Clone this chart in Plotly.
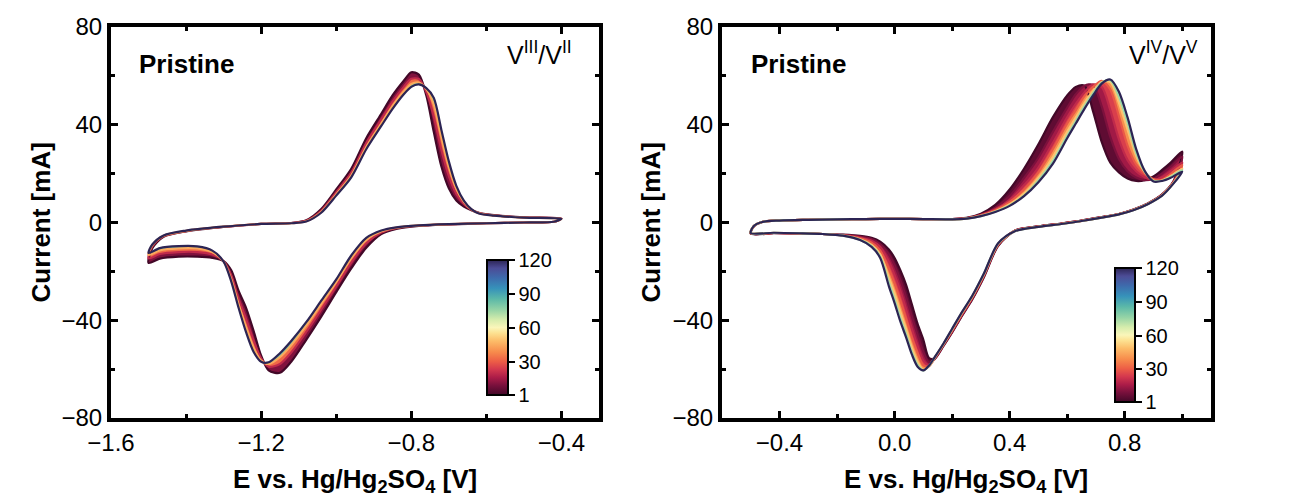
import plotly.graph_objects as go
from plotly.colors import sample_colorscale

FONT = "Liberation Sans, Arial, sans-serif"

# ---------------- LEFT PANEL (V3+/V2+) ----------------
L_CYCLES = [1, 20, 45, 120]
# forward (anodic) sweep potentials [V]
LF_E = [-1.50, -1.49, -1.46, -1.40, -1.30, -1.20, -1.12, -1.08, -1.04, -1.00, -0.96, -0.92, -0.88, -0.85,
        -0.82, -0.80, -0.78, -0.76, -0.74, -0.72, -0.70, -0.68, -0.66, -0.64, -0.62, -0.58, -0.50, -0.40]
L_FWD_C1 = [-16.5, -10.5, -5.8, -3.6, -1.8, -0.6, -0.2, 0.9, 5.5, 13.5, 22.0, 34.5, 44.5, 52.0,
            58.0, 61.5, 60.5, 52.0, 37.0, 23.0, 14.0, 9.0, 6.5, 5.0, 4.0, 3.0, 2.1, 1.6]
L_FWD_C20 = [-14.7, -9.8, -5.6, -3.5, -1.8, -0.6, -0.2, 0.7, 4.8, 12.4, 20.4, 32.5, 42.2, 49.5,
             55.5, 58.8, 58.7, 53.4, 43.3, 29.8, 19.0, 11.7, 7.6, 5.2, 3.9, 2.9, 2.1, 1.6]
L_FWD_C45 = [-13.3, -9.3, -5.4, -3.4, -1.7, -0.6, -0.3, 0.5, 4.3, 11.5, 19.2, 30.9, 40.5, 47.6,
             53.6, 56.7, 57.3, 54.6, 48.2, 35.0, 22.8, 13.8, 8.5, 5.4, 3.8, 2.8, 2.0, 1.5]
L_FWD_C120 = [-12.5, -9.0, -5.3, -3.3, -1.7, -0.6, -0.3, 0.4, 4.0, 11.0, 18.5, 30.0, 39.5, 46.5,
              52.5, 55.5, 56.5, 55.0, 51.0, 38.0, 25.0, 15.0, 9.0, 5.5, 3.7, 2.8, 2.0, 1.5]
# reverse (cathodic) sweep potentials [V]
LR_E = [-0.40, -0.42, -0.50, -0.60, -0.70, -0.78, -0.84, -0.88, -0.92, -0.96, -1.00, -1.04, -1.08, -1.12,
        -1.15, -1.18, -1.20, -1.22, -1.24, -1.26, -1.28, -1.30, -1.33, -1.37, -1.42, -1.47, -1.50]
L_REV_C1 = [1.6, 0.3, 0.0, -0.3, -0.8, -1.4, -2.6, -4.7, -10.3, -18.8, -28.5, -38.5, -48.0, -57.0,
            -61.5, -60.5, -54.5, -44.4, -35.0, -28.0, -19.5, -15.8, -14.5, -14.0, -14.0, -14.8, -16.5]
L_REV_C20 = [1.6, 0.3, 0.0, -0.3, -0.75, -1.3, -2.3, -4.1, -8.5, -16.4, -26.2, -35.6, -44.8, -53.2,
             -57.9, -59.0, -55.6, -48.3, -39.5, -31.2, -21.5, -15.9, -13.1, -12.1, -12.1, -12.9, -14.7]
L_REV_C45 = [1.5, 0.3, 0.0, -0.3, -0.7, -1.2, -2.1, -3.6, -7.1, -14.6, -24.3, -33.3, -42.2, -50.2,
             -55.1, -57.9, -56.5, -51.3, -43.0, -33.6, -23.1, -16.0, -12.1, -10.6, -10.6, -11.4, -13.3]
L_REV_C120 = [1.5, 0.3, 0.0, -0.3, -0.7, -1.2, -2.0, -3.3, -6.3, -13.5, -23.3, -32.0, -40.8, -48.5,
              -53.5, -57.2, -57.0, -53.0, -45.0, -35.0, -24.0, -16.0, -11.5, -9.8, -9.7, -10.5, -12.5]

# ---------------- RIGHT PANEL (V4+/V5+) ----------------
R_CYCLES = [1, 10, 20, 30, 50, 75, 120]
RF_E = [-0.50, -0.49, -0.46, -0.40, -0.30, -0.20, -0.10, 0.00, 0.10, 0.20, 0.25, 0.30, 0.35, 0.40, 0.45,
        0.50, 0.55, 0.60, 0.63, 0.66, 0.69, 0.72, 0.75, 0.78, 0.81, 0.84, 0.87, 0.90, 0.93, 0.96, 1.00]
R_FWD_C1 = [-4.6, -1.6, 0.2, 0.8, 1.1, 1.3, 1.4, 1.5, 1.4, 1.4, 1.9, 3.6, 7.2, 13.5, 22.0,
            32.0, 43.0, 52.0, 55.5, 56.0, 45.5, 33.0, 24.5, 20.5, 18.0, 17.0, 17.3, 18.8, 21.5, 24.5, 29.0]
R_FWD_C10 = [-4.5, -1.6, 0.2, 0.8, 1.1, 1.3, 1.4, 1.5, 1.4, 1.4, 1.8, 3.2, 6.0, 10.8, 18.2,
             26.5, 37.0, 47.0, 52.5, 56.0, 56.3, 47.5, 35.0, 26.0, 21.0, 18.4, 17.3, 17.9, 20.0, 22.8, 27.0]
R_FWD_C20 = [-4.5, -1.6, 0.2, 0.8, 1.1, 1.3, 1.4, 1.5, 1.4, 1.4, 1.7, 3.0, 5.4, 9.2, 15.2,
             22.5, 32.5, 43.0, 48.5, 53.2, 56.5, 55.5, 46.0, 34.0, 25.5, 21.0, 18.5, 17.3, 18.5, 21.0, 24.5]
R_FWD_C30 = [-4.4, -1.5, 0.2, 0.8, 1.1, 1.3, 1.4, 1.5, 1.4, 1.4, 1.7, 2.9, 5.0, 8.4, 13.5,
             20.5, 30.0, 40.5, 46.0, 51.7, 55.5, 58.0, 54.5, 43.5, 31.5, 23.8, 20.0, 17.8, 17.5, 19.8, 23.5]
R_FWD_C50 = [-4.3, -1.5, 0.2, 0.8, 1.1, 1.3, 1.4, 1.5, 1.4, 1.3, 1.6, 2.7, 4.6, 7.5, 11.8,
             18.3, 26.8, 37.2, 43.0, 49.0, 53.8, 57.5, 57.5, 49.0, 38.0, 27.2, 20.6, 17.2, 17.2, 19.0, 22.0]
R_FWD_C75 = [-4.3, -1.5, 0.2, 0.8, 1.1, 1.3, 1.4, 1.5, 1.4, 1.3, 1.6, 2.6, 4.4, 7.0, 11.0,
             17.2, 25.0, 35.5, 41.5, 47.5, 52.8, 57.2, 58.2, 51.5, 40.8, 28.5, 20.8, 17.0, 17.1, 18.6, 21.4]
R_FWD_C120 = [-4.3, -1.5, 0.2, 0.8, 1.1, 1.3, 1.4, 1.5, 1.4, 1.3, 1.6, 2.6, 4.3, 6.8, 10.8,
              16.5, 24.0, 34.5, 40.5, 46.5, 52.0, 56.8, 58.5, 53.5, 43.0, 30.0, 21.0, 16.8, 17.0, 18.3, 20.8]
RR_E = [1.00, 0.97, 0.93, 0.88, 0.83, 0.78, 0.72, 0.65, 0.58, 0.50, 0.42, 0.36, 0.31, 0.27, 0.23, 0.20, 0.17,
        0.14, 0.12, 0.10, 0.08, 0.06, 0.04, 0.02, 0.00, -0.02, -0.05, -0.08, -0.12, -0.18, -0.25, -0.33, -0.42, -0.50]
R_REV_C1 = [29.0, 17.0, 11.5, 7.8, 5.3, 3.5, 2.2, 0.8, -0.4, -1.6, -3.3, -9.5, -22.5, -31.5, -39.0, -45.0, -50.5,
            -55.5, -55.5, -48.0, -41.5, -33.5, -25.5, -19.5, -14.5, -11.0, -7.8, -6.3, -5.5, -5.0, -4.7, -4.5, -4.4, -4.6]
R_REV_C10 = [27.0, 16.8, 11.4, 7.7, 5.2, 3.5, 2.2, 0.8, -0.4, -1.6, -3.2, -9.3, -22.2, -31.2, -38.8, -44.8, -50.3,
             -55.8, -57.3, -53.0, -46.0, -38.5, -30.5, -23.5, -17.5, -13.0, -8.8, -6.8, -5.8, -5.1, -4.7, -4.5, -4.3, -4.5]
R_REV_C20 = [24.5, 16.6, 11.3, 7.7, 5.2, 3.4, 2.1, 0.7, -0.5, -1.7, -3.3, -9.1, -21.9, -30.9, -38.5, -44.5, -50.1,
             -55.5, -58.3, -56.5, -50.5, -43.5, -35.5, -28.0, -21.5, -16.0, -10.0, -7.5, -6.2, -5.2, -4.7, -4.5, -4.3, -4.5]
R_REV_C30 = [23.5, 16.4, 11.2, 7.6, 5.1, 3.4, 2.1, 0.7, -0.5, -1.7, -3.4, -8.9, -21.6, -30.6, -38.2, -44.2, -49.9,
             -55.3, -58.8, -58.5, -53.5, -47.0, -39.5, -32.0, -25.0, -19.0, -11.5, -8.3, -6.5, -5.3, -4.7, -4.4, -4.3, -4.4]
R_REV_C50 = [22.0, 16.2, 11.1, 7.6, 5.1, 3.3, 2.0, 0.6, -0.6, -1.8, -3.4, -8.7, -21.3, -30.3, -37.8, -43.8, -49.7,
             -55.2, -58.8, -60.3, -57.0, -51.0, -43.5, -36.5, -29.0, -22.5, -13.0, -9.2, -6.9, -5.4, -4.7, -4.4, -4.2, -4.3]
R_REV_C75 = [21.4, 16.1, 11.0, 7.5, 5.0, 3.3, 2.0, 0.6, -0.6, -1.8, -3.5, -8.6, -21.1, -30.1, -37.6, -43.6, -49.6,
             -55.1, -58.6, -60.6, -58.3, -53.0, -45.8, -39.0, -31.5, -24.5, -14.0, -9.7, -7.1, -5.4, -4.7, -4.4, -4.2, -4.3]
R_REV_C120 = [20.8, 16.0, 11.0, 7.5, 5.0, 3.3, 2.0, 0.6, -0.6, -1.8, -3.5, -8.5, -21.0, -30.0, -37.5, -43.5, -49.5,
              -55.0, -58.5, -60.5, -59.0, -54.0, -47.0, -40.5, -33.0, -26.0, -14.5, -10.0, -7.2, -5.4, -4.7, -4.4, -4.2, -4.3]

CBAR_TICKS = [1, 30, 60, 90, 120]

COLORSCALE = [
    [0.00, "rgb(66,8,40)"], [0.07, "rgb(120,16,60)"], [0.13, "rgb(172,28,72)"],
    [0.19, "rgb(212,56,78)"], [0.25, "rgb(237,94,70)"], [0.32, "rgb(247,140,76)"],
    [0.40, "rgb(252,188,104)"], [0.46, "rgb(253,226,146)"], [0.50, "rgb(250,246,186)"],
    [0.56, "rgb(212,236,172)"], [0.63, "rgb(150,212,166)"], [0.71, "rgb(92,185,168)"],
    [0.79, "rgb(54,146,186)"], [0.87, "rgb(62,106,172)"], [0.94, "rgb(76,76,150)"],
    [1.00, "rgb(44,36,84)"],
]


def col(c):
    return sample_colorscale(COLORSCALE, [(c - 1) / 119.0])[0]


fig = go.Figure()


def add_panel(xa, ya, cycles, fE, fwd, rE, rev):
    # bands between consecutive recorded cycles (dense overlapping cycles)
    for i in range(len(cycles) - 1):
        mid = (cycles[i] + cycles[i + 1]) / 2.0
        for E, a, b in ((fE, fwd[i], fwd[i + 1]), (rE, rev[i], rev[i + 1])):
            fig.add_trace(go.Scatter(
                x=list(E) + list(E)[::-1], y=list(a) + list(b)[::-1],
                mode="lines", fill="toself", fillcolor=col(mid),
                line=dict(width=0, shape="spline", smoothing=0.8, color=col(mid)),
                xaxis=xa, yaxis=ya, hoverinfo="skip", showlegend=False))
    for i, c in enumerate(cycles):
        x = list(fE) + list(rE)[1:]
        y = list(fwd[i]) + list(rev[i])[1:]
        fig.add_trace(go.Scatter(
            x=x, y=y, mode="lines",
            line=dict(width=2.2, color=col(c), shape="spline", smoothing=0.8),
            xaxis=xa, yaxis=ya, name="Cycle %d" % c, showlegend=False))


add_panel("x", "y", L_CYCLES, LF_E, [L_FWD_C1, L_FWD_C20, L_FWD_C45, L_FWD_C120],
          LR_E, [L_REV_C1, L_REV_C20, L_REV_C45, L_REV_C120])
add_panel("x2", "y2", R_CYCLES, RF_E,
          [R_FWD_C1, R_FWD_C10, R_FWD_C20, R_FWD_C30, R_FWD_C50, R_FWD_C75, R_FWD_C120],
          RR_E, [R_REV_C1, R_REV_C10, R_REV_C20, R_REV_C30, R_REV_C50, R_REV_C75, R_REV_C120])

W, H = 1296, 504


def cbar(x_left, y_mid, length, thick):
    return dict(x=x_left / W, xanchor="left", y=1 - y_mid / H, yanchor="middle",
                len=length, lenmode="pixels", thickness=thick, thicknessmode="pixels",
                outlinewidth=2, outlinecolor="black", tickvals=CBAR_TICKS, ticks="outside",
                ticklen=6, tickwidth=2, tickcolor="black", xpad=0, ypad=0,
                tickfont=dict(size=20, color="black", family=FONT))


for xa, ya, xm, cb in (("x", "y", -1.0, cbar(487, 327.5, 135, 21)),
                       ("x2", "y2", 0.2, cbar(1115, 335, 134, 20))):
    fig.add_trace(go.Scatter(
        x=[xm, xm], y=[0, 0], mode="markers",
        marker=dict(size=1, opacity=0, color=[CBAR_TICKS[0], CBAR_TICKS[-1]], cmin=1, cmax=120,
                    colorscale=COLORSCALE, showscale=True, colorbar=cb),
        xaxis=xa, yaxis=ya, hoverinfo="skip", showlegend=False))

tickfont = dict(size=24, family=FONT, color="black")
common = dict(showline=True, linewidth=4, linecolor="black", mirror="ticks", ticks="inside",
              ticklen=7, tickwidth=3, tickcolor="black", showgrid=False, zeroline=False,
              tickfont=tickfont)
ydom = [1 - 418 / H, 1 - 27 / H]

fig.update_layout(
    width=W, height=H, margin=dict(l=0, r=0, t=0, b=0, autoexpand=False), autosize=False,
    paper_bgcolor="white", plot_bgcolor="white", showlegend=False,
    font=dict(family=FONT, color="black"),
    xaxis=dict(domain=[111 / W, 599 / W], range=[-1.6, -0.3], tick0=-1.6, dtick=0.4, tickformat=".1f",
               minor=dict(dtick=0.2, ticks="inside", ticklen=4, tickwidth=3, tickcolor="black"),
               anchor="y", **common),
    yaxis=dict(domain=ydom, range=[-80, 80], tick0=0, dtick=40,
               minor=dict(dtick=20, ticks="inside", ticklen=4, tickwidth=3, tickcolor="black"),
               anchor="x", **common),
    xaxis2=dict(domain=[722 / W, 1211 / W], range=[-0.6, 1.1], tick0=0, dtick=0.4, tickformat=".1f",
                minor=dict(dtick=0.2, ticks="inside", ticklen=4, tickwidth=3, tickcolor="black"),
                anchor="y2", **common),
    yaxis2=dict(domain=ydom, range=[-80, 80], tick0=0, dtick=40,
                minor=dict(dtick=20, ticks="inside", ticklen=4, tickwidth=3, tickcolor="black"),
                anchor="x2", **common),
)

ann = []
xtitle = "<b>E vs. Hg/Hg<sub>2</sub>SO<sub>4</sub> [V]</b>"
for xc in (355, 966.5):
    ann.append(dict(text=xtitle, x=xc / W, y=1 - 480 / H, xref="paper", yref="paper",
                    xanchor="center", yanchor="middle", showarrow=False,
                    font=dict(size=26, family=FONT, color="black")))
for xc in (40, 650):
    ann.append(dict(text="<b>Current [mA]</b>", x=xc / W, y=1 - 222.5 / H, xref="paper", yref="paper",
                    xanchor="center", yanchor="middle", textangle=-90, showarrow=False,
                    font=dict(size=26, family=FONT, color="black")))
for xl in (137, 749):
    ann.append(dict(text="<b>Pristine</b>", x=xl / W, y=1 - 64 / H, xref="paper", yref="paper",
                    xanchor="left", yanchor="middle", showarrow=False,
                    font=dict(size=26, family=FONT, color="black")))
ann.append(dict(text="V<sup>III</sup>/V<sup>II</sup>", x=574 / W, y=1 - 53 / H, xref="paper", yref="paper",
                xanchor="right", yanchor="middle", showarrow=False,
                font=dict(size=25, family=FONT, color="black")))
ann.append(dict(text="V<sup>IV</sup>/V<sup>V</sup>", x=1200 / W, y=1 - 53 / H, xref="paper", yref="paper",
                xanchor="right", yanchor="middle", showarrow=False,
                font=dict(size=25, family=FONT, color="black")))
fig.update_layout(annotations=ann)

fig.write_html("out.html")
